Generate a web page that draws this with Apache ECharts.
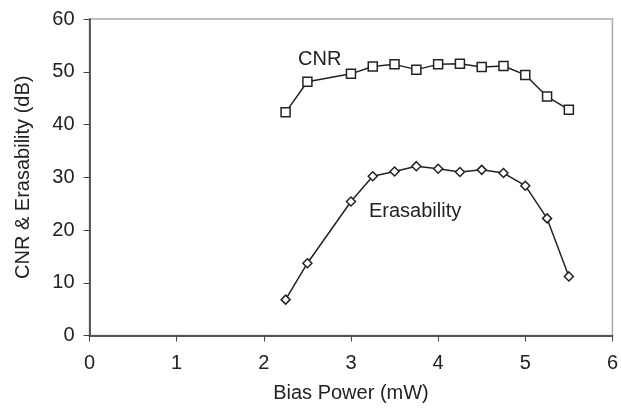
<!DOCTYPE html>
<html>
<head>
<meta charset="utf-8">
<script src="https://cdn.jsdelivr.net/npm/echarts@6/dist/echarts.min.js"></script>
<style>
  html, body { margin: 0; padding: 0; background: #fff; }
  #chart { width: 621px; height: 411px; }
</style>
</head>
<body>
<div id="chart"></div>
<script>
// valores
const biasPower = [2.25, 2.5, 3.0, 3.25, 3.5, 3.75, 4.0, 4.25, 4.5, 4.75, 5.0, 5.25, 5.5];
const cnr = [42.3, 48.1, 49.6, 51.0, 51.4, 50.4, 51.4, 51.5, 50.9, 51.1, 49.4, 45.3, 42.8];
const erasability = [6.8, 13.7, 25.4, 30.2, 31.1, 32.1, 31.6, 31.0, 31.4, 30.8, 28.4, 22.2, 11.2];

function pairs(xs, ys) {
    return xs.map((x, i) => [x, ys[i]]);
}

var chartDom = document.getElementById('chart');
var myChart = echarts.init(chartDom);
var font = 'Liberation Sans, Arial, sans-serif';

var option = {
    animation: false,
    grid: { left: 89.5, right: 6, top: 19, bottom: 75.5, show: true, borderColor: '#aaa', borderWidth: 1.5 },
    xAxis: {
        type: 'value',
        min: 0, max: 6, interval: 1,
        name: 'Bias Power (mW)',
        nameLocation: 'middle',
        nameGap: 48,
        nameTextStyle: { fontFamily: font, fontSize: 20, color: '#222' },
        axisLine: { onZero: false, lineStyle: { color: '#555', width: 2 } },
        axisTick: { show: true, length: 6, lineStyle: { color: '#444' } },
        axisLabel: { margin: 18, fontFamily: font, fontSize: 20, color: '#222' },
        splitLine: { show: false }
    },
    yAxis: {
        type: 'value',
        min: 0, max: 60, interval: 10,
        name: 'CNR & Erasability (dB)',
        nameLocation: 'middle',
        nameGap: 56,
        nameTextStyle: { fontFamily: font, fontSize: 20, color: '#222' },
        axisLine: { show: true, lineStyle: { color: '#333', width: 1.5 } },
        axisTick: { show: true, length: 6, lineStyle: { color: '#444' } },
        axisLabel: { margin: 15, fontFamily: font, fontSize: 20, color: '#222' },
        splitLine: { show: false }
    },
    series: [
        {
            name: 'CNR',
            type: 'line',
            data: pairs(biasPower, cnr),
            symbol: 'rect',
            symbolSize: 9,
            lineStyle: { color: '#222', width: 1.5 },
            itemStyle: { color: '#fff', borderColor: '#222', borderWidth: 1.5 }
        },
        {
            name: 'Erasability',
            type: 'line',
            data: pairs(biasPower, erasability),
            symbol: 'diamond',
            symbolSize: 9,
            lineStyle: { color: '#222', width: 1.5 },
            itemStyle: { color: '#fff', borderColor: '#222', borderWidth: 1.5 }
        }
    ],
    graphic: [
        { type: 'text', left: 298, top: 49, style: { text: 'CNR', fontFamily: font, fontSize: 20, fill: '#222' } },
        { type: 'text', left: 369, top: 201, style: { text: 'Erasability', fontFamily: font, fontSize: 20, fill: '#222' } }
    ]
};

myChart.setOption(option);
</script>
</body>
</html>
